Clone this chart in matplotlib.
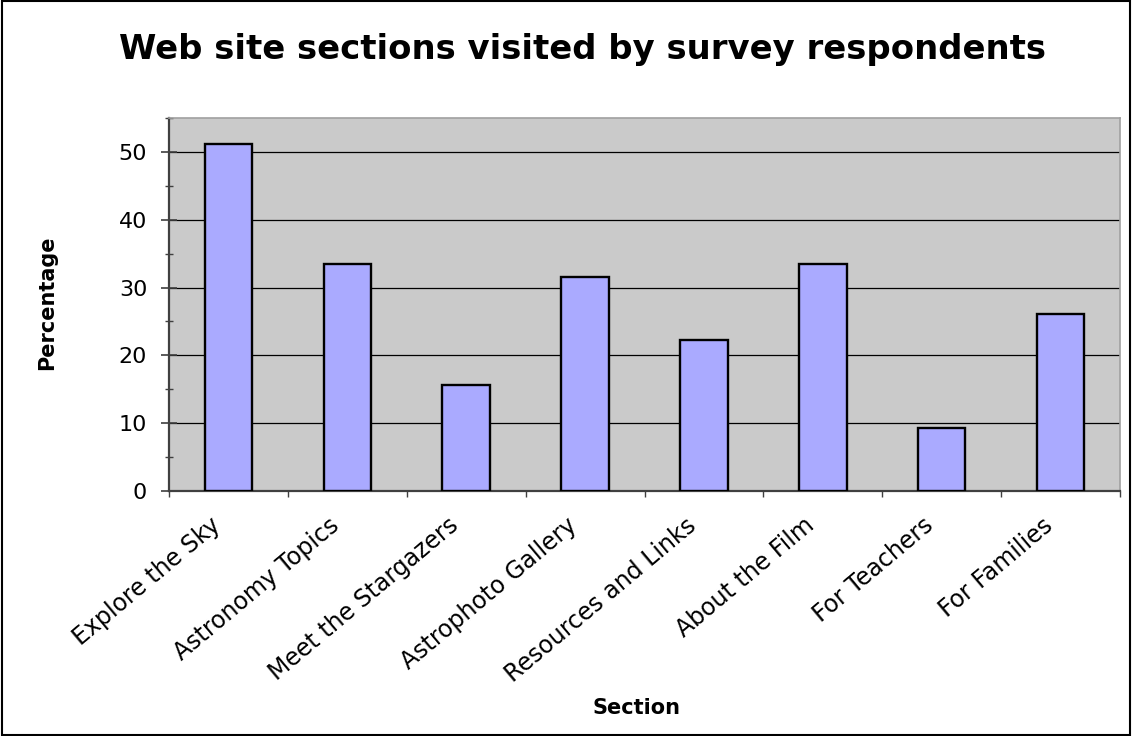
import matplotlib
matplotlib.use("Agg")
from matplotlib import pyplot as plt
from matplotlib.patches import Rectangle
from matplotlib.transforms import ScaledTranslation
from matplotlib.ticker import MultipleLocator, FixedLocator


sections = ["Explore the Sky", "Astronomy Topics", "Meet the Stargazers",
            "Astrophoto Gallery", "Resources and Links", "About the Film",
            "For Teachers", "For Families"]
percentages = [51.2, 33.5, 15.6, 31.5, 22.2, 33.5, 9.3, 26.1]

plt.rcParams['font.family'] = ['DejaVu Sans']

fig = plt.figure(figsize=(11.32, 7.36), dpi=100)
ax = fig.add_axes([0.1493, 0.3329, 0.9894 - 0.1493, 0.8397 - 0.3329])

ax.set_facecolor("#CACACA")
positions = list(range(len(sections)))
ax.bar(positions, percentages, 0.4, color="#AAAAFF", edgecolor="black",
       linewidth=1.7, zorder=3)

ax.set_xlim(-0.5, len(sections) - 0.5)
ax.set_ylim(0, 55)

# os Y: główne co 10, pomocnicze co 5, kreski przecinające oś
ax.yaxis.set_major_locator(MultipleLocator(10))
ax.yaxis.set_minor_locator(MultipleLocator(5))
ax.tick_params(axis="y", which="major", direction="inout", length=11.5,
               width=1.2, color="#404040", labelsize=16, pad=10)
ax.tick_params(axis="y", which="minor", direction="inout", length=5.8,
               width=1.0, color="#404040")
ax.grid(axis="y", which="major", color="black", linewidth=0.9, zorder=1)
ax.set_axisbelow(True)

# os X: kreski na granicach kategorii, etykiety na środkach
ax.xaxis.set_major_locator(FixedLocator([p - 0.5 for p in positions] + [len(sections) - 0.5]))
ax.xaxis.set_major_formatter(plt.NullFormatter())
ax.xaxis.set_minor_locator(FixedLocator(positions))
ax.set_xticks(positions, sections, minor=True)
ax.tick_params(axis="x", which="major", direction="out", length=4.5,
               width=1.0, color="#404040")
ax.tick_params(axis="x", which="minor", length=0, labelsize=17, pad=16)
offset = ScaledTranslation(-19 / 100, 0, fig.dpi_scale_trans)
for label in ax.get_xticklabels(minor=True):
    label.set_rotation(40)
    label.set_rotation_mode("anchor")
    label.set_ha("right")
    label.set_va("top")
    label.set_transform(label.get_transform() + offset)

for side in ["left", "bottom"]:
    ax.spines[side].set_color("#404040")
    ax.spines[side].set_linewidth(1.6)
for side in ["top", "right"]:
    ax.spines[side].set_color("#A0A0A0")
    ax.spines[side].set_linewidth(1.2)

fig.text(0.5146, 0.933, "Web site sections visited by survey respondents",
         ha="center", va="center", fontsize=24.4, fontweight="bold")
fig.text(0.0415, 0.588, "Percentage", rotation=90, ha="center", va="center",
         fontsize=15, fontweight="bold")
fig.text(0.5627, 0.038, "Section", ha="center", va="center",
         fontsize=15, fontweight="bold")

# ramka wokół całego wykresu
fig.patches.append(Rectangle((0.002, 0.002), 0.996, 0.996, transform=fig.transFigure,
                             fill=False, edgecolor="black", linewidth=1.5))

fig.savefig("out.png", dpi=100)
